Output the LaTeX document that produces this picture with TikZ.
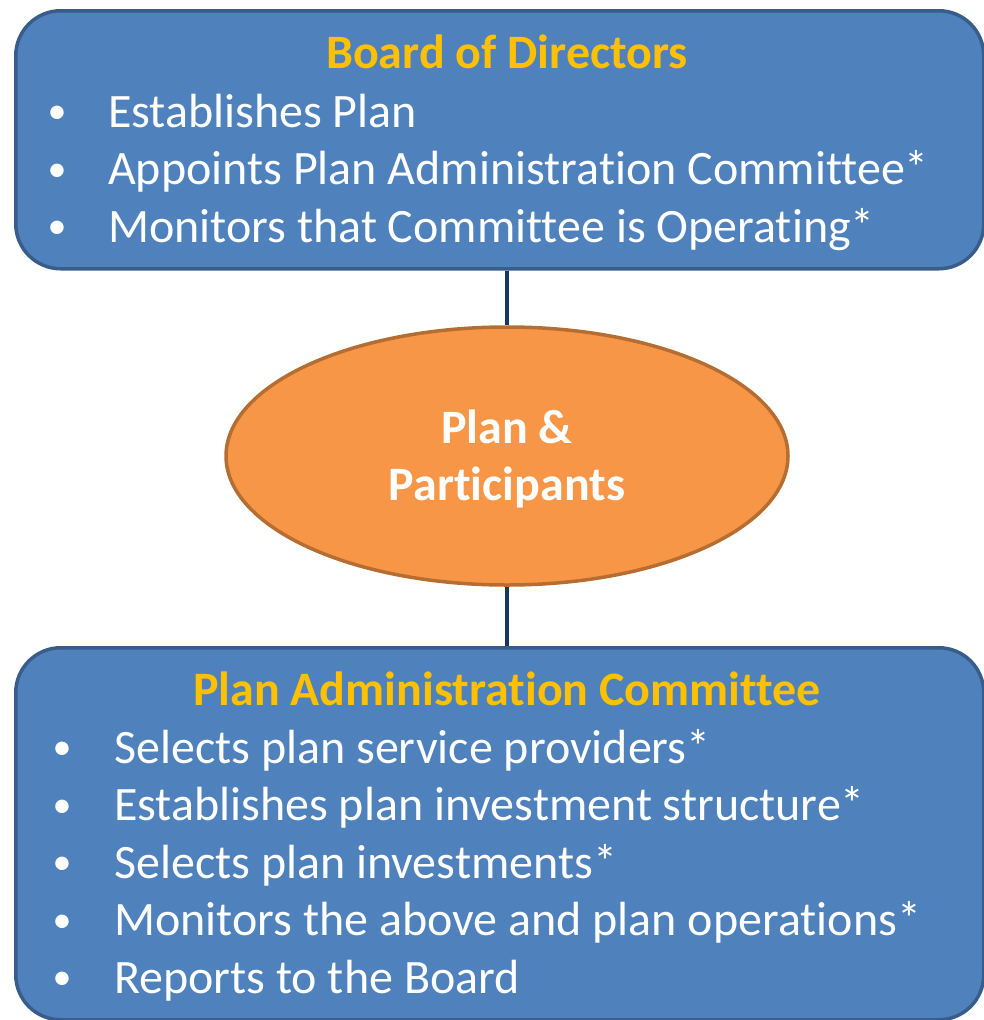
\documentclass[tikz,border=0pt]{standalone}
\usepackage{fontspec}
\setmainfont{Carlito}[Ligatures={NoCommon}]
\usetikzlibrary{positioning,shapes.geometric}
\definecolor{boxblue}{RGB}{79,129,189}
\definecolor{boxedge}{RGB}{56,93,138}
\definecolor{ovalfill}{RGB}{247,150,70}
\definecolor{ovaledge}{RGB}{182,109,49}
\definecolor{linknavy}{RGB}{23,55,94}
\definecolor{titlegold}{RGB}{255,192,0}
\newcommand{\bodyfont}{\fontsize{48}{57.5}\selectfont}
\newcommand{\dotfont}{\fontsize{38}{57.5}\selectfont}

\begin{document}
\begin{tikzpicture}[x=1pt, y=-1pt,
    panel/.style={draw=boxedge, fill=boxblue, line width=3.5pt, rounded corners=45pt, anchor=north west, minimum width=968pt},
    oval/.style={ellipse, draw=ovaledge, fill=ovalfill, line width=3.5pt},
    link/.style={draw=linknavy, line width=4pt},
    heading/.style={anchor=base, text=titlegold, font=\bodyfont\bfseries, inner sep=0pt},
    item/.style={anchor=base west, text=white, font=\bodyfont, inner sep=0pt},
    dot/.style={anchor=base, text=white, font=\dotfont, inner sep=0pt}]
        \useasboundingbox (0,0) rectangle (983,1020);

        % the three blocks
        \node[panel, minimum height=258pt] (board) at (14,9) {};
        \node[oval, minimum width=562pt, minimum height=258pt] (plan) at (507,456) {};
        \node[panel, minimum height=372pt] (committee) at (14,646) {};

        % links
        \draw[link] (board.south -| plan.north) -- (plan.north);
        \draw[link] (plan.south) -- (committee.north -| plan.south);

        % board duties
        \node[heading] (boardtitle) at (507,68) {Board of Directors};
        \foreach \txt [count=\i] in {Establishes Plan,
                                    Appoints Plan Administration Committee*,
                                    Monitors that Committee is Operating*} {
            \node[dot] (bdot\i) at (57,{66+57.5*\i}) {•};
            \node[item] (bitem\i) at (108,{69.5+57.5*\i}) {\txt};
        }

        % middle label
        \node[heading, text=white] (plantop) at (507,443) {Plan \&};
        \node[heading, text=white] (planbottom) at (507,500) {Participants};

        % committee duties
        \node[heading] (committeetitle) at (507,705) {Plan Administration Committee};
        \foreach \txt [count=\i] in {Selects plan service providers*,
                                    Establishes plan investment structure*,
                                    Selects plan investments*,
                                    Monitors the above and plan operations*,
                                    Reports to the Board} {
            \node[dot] (cdot\i) at (62,{702+57.5*\i}) {•};
            \node[item] (citem\i) at (114,{705.5+57.5*\i}) {\txt};
        }
\end{tikzpicture}
\end{document}
